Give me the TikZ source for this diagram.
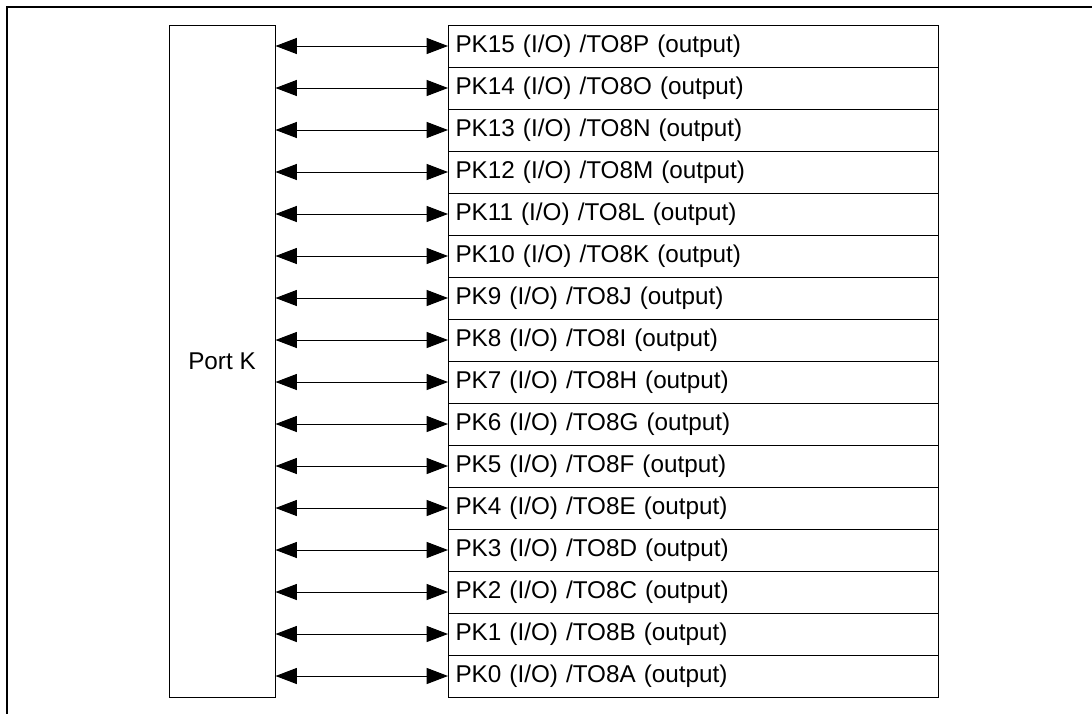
\documentclass[tikz,border=0pt]{standalone}
\usepackage{fontspec}
\setmainfont{Liberation Sans}
\usetikzlibrary{arrows.meta}

\tikzset{
  pinbox/.style={draw, rectangle, line width=0.75pt, anchor=west, minimum width=367.5pt, minimum height=31.5pt, inner xsep=5.25pt, text width=357pt, align=left},
  bus/.style={{Triangle[length=16pt,width=12pt]}-{Triangle[length=16pt,width=12pt]}, line width=0.75pt}
}

\begin{document}
\begin{tikzpicture}[x=0.75pt, y=-0.75pt, font=\fontsize{18.2}{21}\selectfont]
\useasboundingbox (0,0) rectangle (1092,714);

% Cadre
\draw[line width=1.5pt] (1092,7) -| (7,714);

% Port
\node[draw, rectangle, line width=0.75pt, minimum width=79.5pt, minimum height=504pt] (port) at (222,361) {Port K};

% Broches
\node[pinbox] (pk15) at (448,46) {PK15 (I/O) /TO8P (output)};
\node[pinbox] (pk14) at (448,88) {PK14 (I/O) /TO8O (output)};
\node[pinbox] (pk13) at (448,130) {PK13 (I/O) /TO8N (output)};
\node[pinbox] (pk12) at (448,172) {PK12 (I/O) /TO8M (output)};
\node[pinbox] (pk11) at (448,214) {PK11 (I/O) /TO8L (output)};
\node[pinbox] (pk10) at (448,256) {PK10 (I/O) /TO8K (output)};
\node[pinbox] (pk9) at (448,298) {PK9 (I/O) /TO8J (output)};
\node[pinbox] (pk8) at (448,340) {PK8 (I/O) /TO8I (output)};
\node[pinbox] (pk7) at (448,382) {PK7 (I/O) /TO8H (output)};
\node[pinbox] (pk6) at (448,424) {PK6 (I/O) /TO8G (output)};
\node[pinbox] (pk5) at (448,466) {PK5 (I/O) /TO8F (output)};
\node[pinbox] (pk4) at (448,508) {PK4 (I/O) /TO8E (output)};
\node[pinbox] (pk3) at (448,550) {PK3 (I/O) /TO8D (output)};
\node[pinbox] (pk2) at (448,592) {PK2 (I/O) /TO8C (output)};
\node[pinbox] (pk1) at (448,634) {PK1 (I/O) /TO8B (output)};
\node[pinbox] (pk0) at (448,676) {PK0 (I/O) /TO8A (output)};

% Liaisons
\draw[bus] (pk15.west -| port.east) -- (pk15.west);
\draw[bus] (pk14.west -| port.east) -- (pk14.west);
\draw[bus] (pk13.west -| port.east) -- (pk13.west);
\draw[bus] (pk12.west -| port.east) -- (pk12.west);
\draw[bus] (pk11.west -| port.east) -- (pk11.west);
\draw[bus] (pk10.west -| port.east) -- (pk10.west);
\draw[bus] (pk9.west -| port.east) -- (pk9.west);
\draw[bus] (pk8.west -| port.east) -- (pk8.west);
\draw[bus] (pk7.west -| port.east) -- (pk7.west);
\draw[bus] (pk6.west -| port.east) -- (pk6.west);
\draw[bus] (pk5.west -| port.east) -- (pk5.west);
\draw[bus] (pk4.west -| port.east) -- (pk4.west);
\draw[bus] (pk3.west -| port.east) -- (pk3.west);
\draw[bus] (pk2.west -| port.east) -- (pk2.west);
\draw[bus] (pk1.west -| port.east) -- (pk1.west);
\draw[bus] (pk0.west -| port.east) -- (pk0.west);

\end{tikzpicture}
\end{document}
